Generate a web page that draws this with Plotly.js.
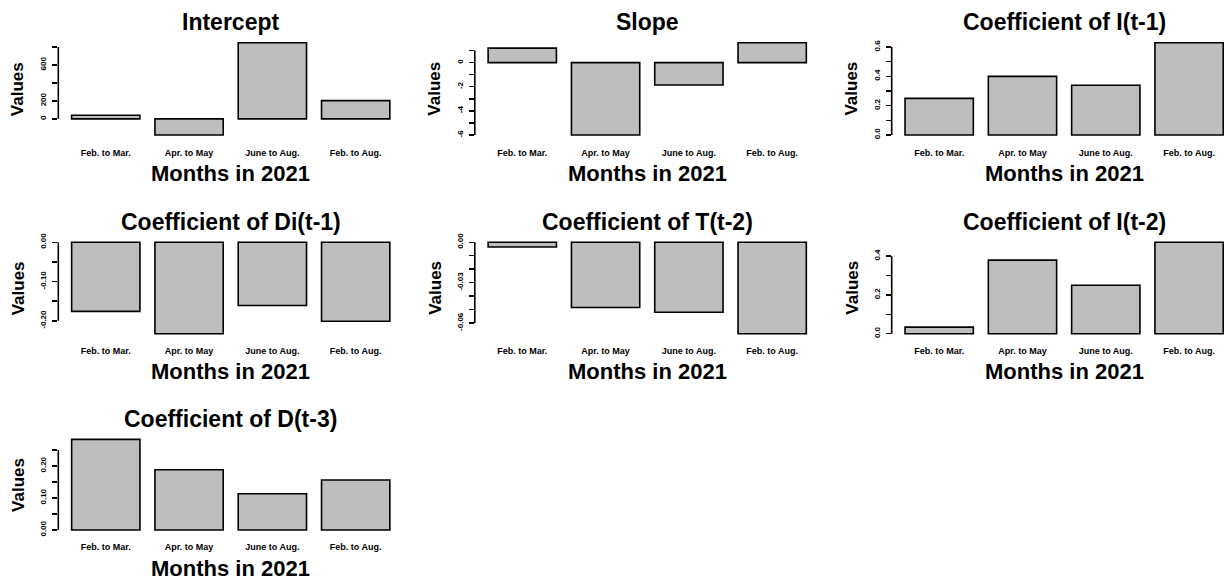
<!DOCTYPE html>
<html>
<head>
<meta charset="utf-8">
<script src="https://cdn.plot.ly/plotly-3.0.1.min.js"></script>
<style>
  html, body { margin: 0; padding: 0; background: #ffffff; }
  #chart { width: 1229px; height: 581px; }
</style>
</head>
<body>
<div id="chart"></div>
<script>
// Periods compared in every panel
const categories = ["Feb. to Mar.", "Apr. to May", "June to Aug.", "Feb. to Aug."];

// Estimated coefficients per period
const intercept = [40, -180, 848, 203];
const slope = [1.2, -6.0, -1.85, 1.65];
const coefI1 = [0.25, 0.40, 0.34, 0.63];
const coefDi1 = [-0.176, -0.233, -0.161, -0.201];
const coefT2 = [-0.0035, -0.0485, -0.052, -0.068];
const coefI2 = [0.034, 0.38, 0.25, 0.472];
const coefD3 = [0.283, 0.188, 0.113, 0.156];

// Axis ticks and the labels printed beside them
const interceptTicks = [0, 200, 400, 600, 800];
const interceptTickText = ["0", "200", "", "600", ""];
const slopeTicks = [-6, -5, -4, -3, -2, -1, 0, 1];
const slopeTickText = ["-6", "", "-4", "", "-2", "", "0", ""];
const i1Ticks = [0, 0.1, 0.2, 0.3, 0.4, 0.5, 0.6];
const i1TickText = ["0.0", "", "0.2", "", "0.4", "", "0.6"];
const di1Ticks = [-0.20, -0.15, -0.10, -0.05, 0];
const di1TickText = ["-0.20", "", "-0.10", "", "0.00"];
const t2Ticks = [-0.06, -0.05, -0.04, -0.03, -0.02, -0.01, 0];
const t2TickText = ["-0.06", "", "", "-0.03", "", "", "0.00"];
const i2Ticks = [0, 0.1, 0.2, 0.3, 0.4];
const i2TickText = ["0.0", "", "0.2", "", "0.4"];
const d3Ticks = [0, 0.05, 0.10, 0.15, 0.20, 0.25];
const d3TickText = ["0.00", "", "0.10", "", "0.20", ""];

const xTitle = "Months in 2021";
const yTitle = "Values";

const panels = [
  { title: "Intercept", values: intercept, ticks: interceptTicks, tickText: interceptTickText, col: 0, row: 0 },
  { title: "Slope", values: slope, ticks: slopeTicks, tickText: slopeTickText, col: 1, row: 0 },
  { title: "Coefficient of I(t-1)", values: coefI1, ticks: i1Ticks, tickText: i1TickText, col: 2, row: 0 },
  { title: "Coefficient of Di(t-1)", values: coefDi1, ticks: di1Ticks, tickText: di1TickText, col: 0, row: 1 },
  { title: "Coefficient of T(t-2)", values: coefT2, ticks: t2Ticks, tickText: t2TickText, col: 1, row: 1 },
  { title: "Coefficient of I(t-2)", values: coefI2, ticks: i2Ticks, tickText: i2TickText, col: 2, row: 1 },
  { title: "Coefficient of D(t-3)", values: coefD3, ticks: d3Ticks, tickText: d3TickText, col: 0, row: 2 }
];

// Page geometry (pixels)
const W = 1229, H = 581;
const colLeft = [58.3, 474.8, 891.7];
const catPx = 83.3;          // pixels per category slot
const catPad = 0.57;         // space between plot edge and first/last bar centre, in slots
const regionW = (3 + 2 * catPad) * catPx;
const rowTop = [39, 238.6, 435.7];
const rowBottom = [138.7, 337.4, 533.6];

const FONT = "Liberation Sans, Arial, Helvetica, sans-serif";

const data = [];
const layout = {
  width: W,
  height: H,
  margin: { l: 0, r: 0, t: 0, b: 0 },
  paper_bgcolor: "#ffffff",
  plot_bgcolor: "#ffffff",
  showlegend: false,
  bargap: 0.18,
  font: { family: FONT, color: "#000000" },
  annotations: [],
  shapes: []
};

panels.forEach((p, i) => {
  const k = i + 1;
  const xa = "xaxis" + (k === 1 ? "" : k);
  const ya = "yaxis" + (k === 1 ? "" : k);
  const xr = "x" + (k === 1 ? "" : k);
  const yr = "y" + (k === 1 ? "" : k);

  const left = colLeft[p.col];
  const fullRight = left + regionW;
  const right = Math.min(fullRight, W);
  const top = rowTop[p.row];
  const bottom = rowBottom[p.row];

  // value range padded by 4% on each side, always including zero
  const lo = Math.min(0, ...p.values);
  const hi = Math.max(0, ...p.values);
  const ext = 0.04 * (hi - lo);

  data.push({
    type: "bar",
    x: categories,
    y: p.values,
    xaxis: xr,
    yaxis: yr,
    marker: { color: "#bebebe", line: { color: "#000000", width: 1.6 } },
    hoverinfo: "skip"
  });

  layout[xa] = {
    domain: [left / W, right / W],
    anchor: yr,
    type: "category",
    range: [-catPad, -catPad + (right - left) / catPx],
    showline: false,
    showgrid: false,
    zeroline: false,
    ticks: "outside",
    ticklen: 5,
    tickcolor: "rgba(0,0,0,0)",
    tickfont: { family: FONT, size: 9, weight: "bold", color: "#000000" },
    fixedrange: true
  };

  layout[ya] = {
    domain: [1 - bottom / H, 1 - top / H],
    anchor: xr,
    range: [lo - ext, hi + ext],
    tickmode: "array",
    tickvals: p.ticks,
    ticktext: p.tickText,
    tickangle: -90,
    ticks: "outside",
    ticklen: 5,
    tickwidth: 1.5,
    tickcolor: "#000000",
    ticklabelstandoff: 3,
    tickfont: { family: FONT, size: 8, weight: "bold", color: "#000000" },
    showline: false,
    showgrid: false,
    zeroline: false,
    fixedrange: true
  };

  // axis line running from the first to the last tick
  layout.shapes.push({
    type: "line",
    xref: xr + " domain",
    yref: yr,
    x0: 0, x1: 0,
    y0: p.ticks[0],
    y1: p.ticks[p.ticks.length - 1],
    line: { color: "#000000", width: 1.6 }
  });

  const cx = (left + fullRight) / 2;

  layout.annotations.push({
    text: p.title,
    xref: "paper", yref: "paper",
    x: cx / W, y: 1 - (top - 17) / H,
    xanchor: "center", yanchor: "middle",
    showarrow: false,
    font: { family: FONT, size: 23, weight: "bold", color: "#000000" }
  });

  layout.annotations.push({
    text: xTitle,
    xref: "paper", yref: "paper",
    x: cx / W, y: 1 - (bottom + 34.5) / H,
    xanchor: "center", yanchor: "middle",
    showarrow: false,
    font: { family: FONT, size: 22, weight: "bold", color: "#000000" }
  });

  layout.annotations.push({
    text: yTitle,
    xref: "paper", yref: "paper",
    x: (left - 40) / W, y: 1 - ((top + bottom) / 2) / H,
    xanchor: "center", yanchor: "middle",
    textangle: -90,
    showarrow: false,
    font: { family: FONT, size: 17, weight: "bold", color: "#000000" }
  });
});

Plotly.newPlot("chart", data, layout, { displayModeBar: false, staticPlot: true });
</script>
</body>
</html>
